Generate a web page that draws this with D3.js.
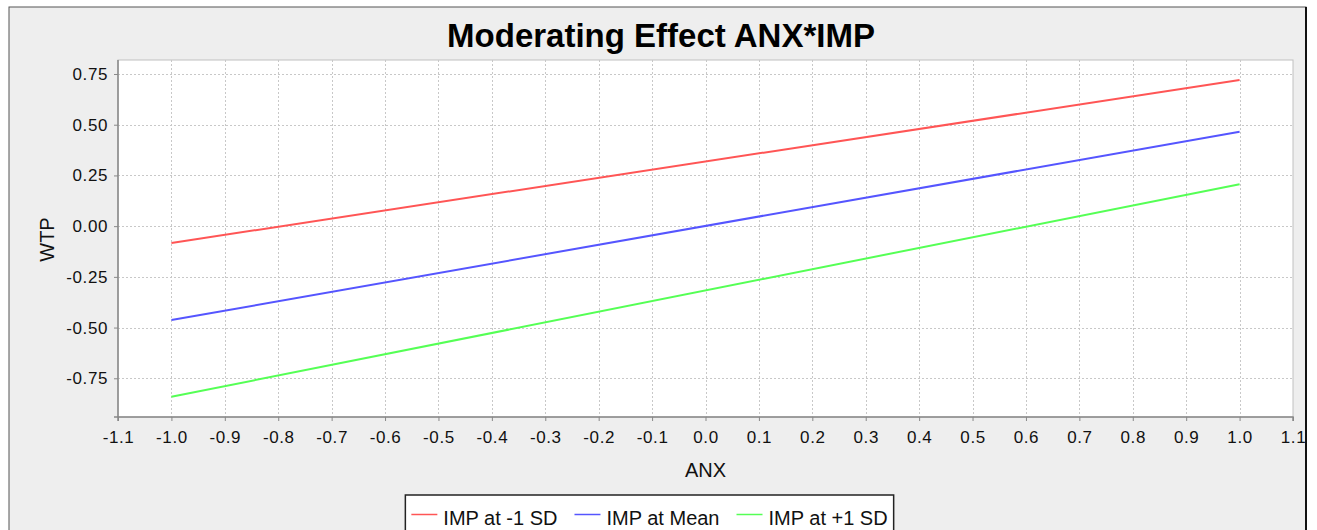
<!DOCTYPE html>
<html>
<head>
<meta charset="utf-8">
<script src="https://cdn.jsdelivr.net/npm/d3@7"></script>
<style>
  html, body { margin: 0; padding: 0; background: #ffffff; }
  svg { display: block; font-family: "Liberation Sans", Arial, sans-serif; }
</style>
</head>
<body>
<svg id="svg"></svg>
<script>
// data
const seriesNames = ["IMP at -1 SD", "IMP at Mean", "IMP at +1 SD"];
const seriesColors = ["#ff5555", "#5555ff", "#55ff55"];
const anx = [-1.0, 1.0];
const wtpLow = [-0.083, 0.720];   // IMP at -1 SD
const wtpMean = [-0.463, 0.465];  // IMP at Mean
const wtpHigh = [-0.841, 0.207];  // IMP at +1 SD
const xTicks = [-1.1, -1.0, -0.9, -0.8, -0.7, -0.6, -0.5, -0.4, -0.3, -0.2, -0.1,
                0.0, 0.1, 0.2, 0.3, 0.4, 0.5, 0.6, 0.7, 0.8, 0.9, 1.0, 1.1];
const yTicks = [0.75, 0.50, 0.25, 0.00, -0.25, -0.50, -0.75];

let width = 1317, height = 530;
let plot = {left: 118, top: 60, right: 1293, bottom: 417};

let svg = d3.select("#svg").attr("width", width).attr("height", height);

// chart panel background + frame
svg.append("rect").attr("x", 0).attr("y", 0).attr("width", width).attr("height", height).attr("fill", "#ffffff");
svg.append("rect").attr("x", 9).attr("y", 7).attr("width", 1297).attr("height", 540)
    .attr("fill", "#eeeeee").attr("stroke", "#555555").attr("stroke-width", 1);
svg.append("line").attr("x1", 1306).attr("x2", 1306).attr("y1", 7).attr("y2", height)
    .attr("stroke", "#111111").attr("stroke-width", 2);

let x = d3.scaleLinear().domain([-1.1, 1.1]).range([plot.left, plot.right]);
let y = d3.scaleLinear().domain([-0.9408, 0.819]).range([plot.bottom, plot.top]);

// plot area
svg.append("rect").attr("x", plot.left).attr("y", plot.top)
    .attr("width", plot.right - plot.left).attr("height", plot.bottom - plot.top)
    .attr("fill", "#ffffff").attr("stroke", "#c0c0c0").attr("stroke-width", 1);

// grid lines
let grid = svg.append("g").attr("stroke", "#c8c8c8").attr("stroke-width", 1).attr("stroke-dasharray", "2,2");
grid.selectAll("line.vx").data(xTicks.slice(1, -1)).join("line")
    .attr("x1", d => Math.round(x(d)) + 0.5).attr("x2", d => Math.round(x(d)) + 0.5)
    .attr("y1", plot.top).attr("y2", plot.bottom);
grid.selectAll("line.hy").data(yTicks).join("line")
    .attr("x1", plot.left).attr("x2", plot.right)
    .attr("y1", d => Math.round(y(d)) + 0.5).attr("y2", d => Math.round(y(d)) + 0.5);

// plain hyphen minus like the original, not the unicode one d3 uses
let fmt = p => (d => d3.format(p)(d).replace("\u2212", "-"));

// axes
let xAxis = d3.axisBottom(x).tickValues(xTicks).tickSize(4).tickPadding(10)
    .tickFormat(fmt(".1f"));
let gx = svg.append("g").attr("transform", `translate(0,${plot.bottom})`).call(xAxis);
let yAxis = d3.axisLeft(y).tickValues(yTicks).tickSize(4).tickPadding(6)
    .tickFormat(fmt(".2f"));
let gy = svg.append("g").attr("transform", `translate(${plot.left},0)`).call(yAxis);

[gx, gy].forEach(g => {
    g.select(".domain").attr("stroke", "#888888").attr("stroke-width", 1.5);
    g.selectAll(".tick line").attr("stroke", "#888888");
    g.selectAll(".tick text").attr("fill", "#111111")
        .style("font-size", "17px").style("font-family", "Liberation Sans, Arial, sans-serif")
        .style("letter-spacing", "0.6px");
});
gx.select(".domain").attr("d", `M${plot.left},4V0H${plot.right}V4`);
gy.select(".domain").attr("d", `M-4,${plot.bottom}H0V${plot.top}`);

// series lines
let lineGen = d3.line().x(d => x(d[0])).y(d => y(d[1]));
let allSeries = [wtpLow, wtpMean, wtpHigh];
svg.append("g").selectAll("path")
    .data(allSeries)
    .join("path")
    .attr("d", vals => lineGen(anx.map((a, i) => [a, vals[i]])))
    .attr("fill", "none")
    .attr("stroke", (d, i) => seriesColors[i])
    .attr("stroke-width", 2);

// title and axis labels
svg.append("text").attr("x", 661).attr("y", 47).attr("text-anchor", "middle")
    .style("font-size", "33px").style("font-weight", "bold").attr("fill", "#000000")
    .text("Moderating Effect ANX*IMP");
svg.append("text").attr("x", (plot.left + plot.right) / 2).attr("y", 477).attr("text-anchor", "middle")
    .style("font-size", "20px").attr("fill", "#111111").text("ANX");
svg.append("text").attr("transform", `translate(54,${(plot.top + plot.bottom) / 2 + 1}) rotate(-90)`)
    .attr("text-anchor", "middle").style("font-size", "20px").attr("fill", "#111111").text("WTP");

// legend (bottom of it runs off the page, as in the original)
let legend = svg.append("g");
let legendBox = legend.append("rect").attr("y", 495).attr("height", 60)
    .attr("fill", "#ffffff").attr("stroke", "#222222").attr("stroke-width", 1.5);
let cursor = 0;
let items = legend.append("g");
seriesNames.forEach((name, i) => {
    items.append("line").attr("x1", cursor).attr("x2", cursor + 26)
        .attr("y1", 514.5).attr("y2", 514.5)
        .attr("stroke", seriesColors[i]).attr("stroke-width", 1.5);
    let t = items.append("text").attr("x", cursor + 32).attr("y", 525)
        .style("font-size", "20px").attr("fill", "#111111").text(name);
    cursor += 32 + t.node().getComputedTextLength() + 17;
});
let itemsWidth = cursor - 17;
let legendCenter = 649.5;
let startX = legendCenter - itemsWidth / 2;
items.attr("transform", `translate(${startX},0)`);
legendBox.attr("x", startX - 6).attr("width", itemsWidth + 12);
</script>
</body>
</html>
